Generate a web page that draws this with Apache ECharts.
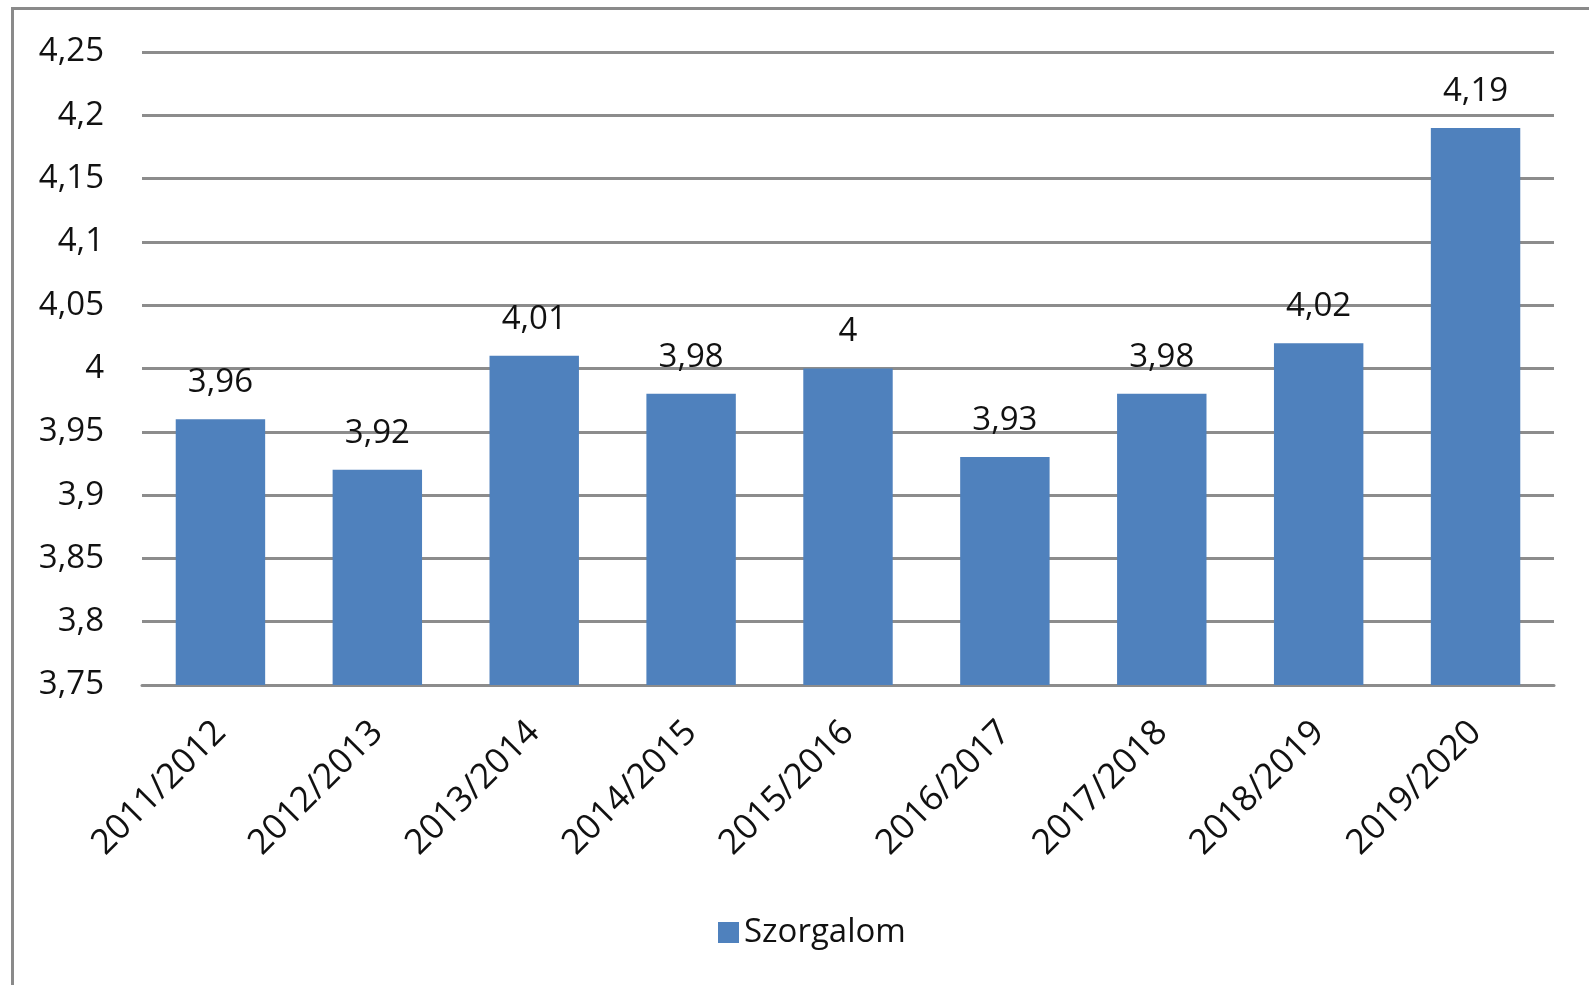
<!DOCTYPE html>
<html>
<head>
<meta charset="utf-8">
<script src="https://cdn.jsdelivr.net/npm/echarts@6/dist/echarts.min.js"></script>
<style>
html, body { margin: 0; padding: 0; background: #fff; }
#chart { width: 1589px; height: 985px; }
</style>
</head>
<body>
<div id="chart"></div>
<script>
var categories = ['2011/2012', '2012/2013', '2013/2014', '2014/2015', '2015/2016', '2016/2017', '2017/2018', '2018/2019', '2019/2020'];
var szorgalom = [3.96, 3.92, 4.01, 3.98, 4.00, 3.93, 3.98, 4.02, 4.19];
var seriesName = 'Szorgalom';

var font = '"Open Sans", "Noto Sans", sans-serif';
function hu(v) {
    return String(Math.round(v * 100) / 100).replace('.', ',');
}

var chart = echarts.init(document.getElementById('chart'));
var option = {
    animation: false,
    backgroundColor: '#fff',
    textStyle: { fontFamily: font },
    graphic: [{
        type: 'polyline',
        shape: { points: [[12.5, 985], [12.5, 8.5], [1589, 8.5]] },
        style: { stroke: '#8a8a8a', lineWidth: 3, fill: null }
    }],
    grid: { left: 142, right: 35, top: 52, bottom: 300 },
    legend: {
        data: [seriesName],
        icon: 'rect',
        left: 713,
        top: 911,
        itemWidth: 21,
        itemHeight: 21,
        itemGap: 10,
        textStyle: { fontSize: 33, color: '#111', fontFamily: font }
    },
    xAxis: {
        type: 'category',
        data: categories,
        axisLine: { show: true, lineStyle: { color: '#8c8c8c', width: 3 } },
        axisTick: { show: false },
        axisLabel: { rotate: 45, fontSize: 35, color: '#111', margin: 42, fontFamily: font }
    },
    yAxis: {
        type: 'value',
        min: 3.75,
        max: 4.25,
        interval: 0.05,
        axisLine: { show: false },
        axisTick: { show: false },
        axisLabel: { fontSize: 33, color: '#111', margin: 38, formatter: hu, fontFamily: font },
        splitLine: { lineStyle: { color: '#8c8c8c', width: 3 } }
    },
    series: [{
        name: seriesName,
        type: 'bar',
        data: szorgalom,
        barWidth: '57%',
        itemStyle: { color: '#4F81BD' },
        label: {
            show: true,
            position: 'top',
            distance: 20,
            fontSize: 33,
            color: '#111',
            fontFamily: font,
            formatter: function (p) { return hu(p.value); }
        }
    }]
};
chart.setOption(option);
</script>
</body>
</html>
